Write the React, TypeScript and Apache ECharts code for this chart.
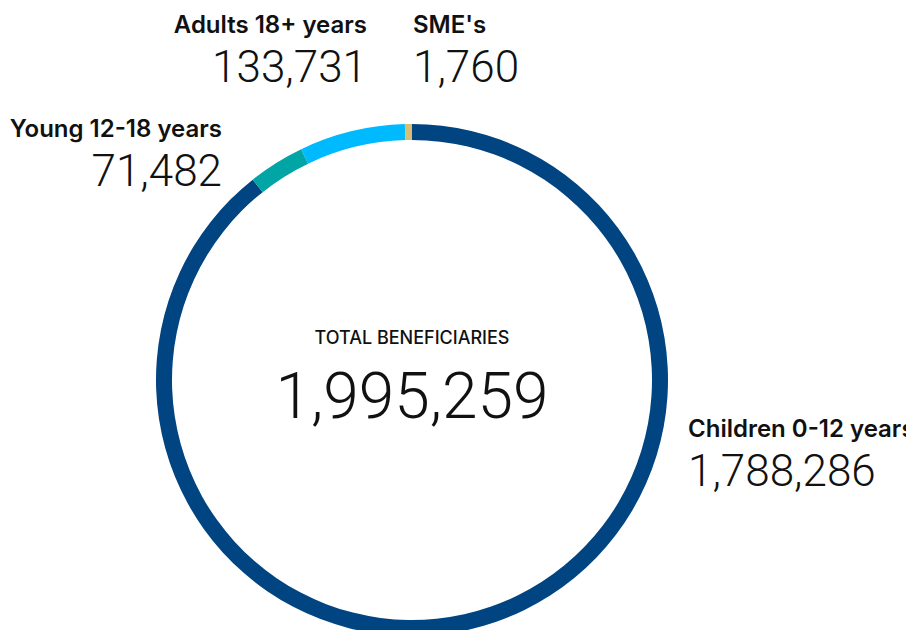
import React, { useEffect, useRef } from "react";
import * as echarts from "echarts";

const categories = ["Children 0-12 years", "Young 12-18 years", "Adults 18+ years", "SME's"];
const values = [1788286, 71482, 133731, 1760];
const colors = ["#004481", "#02A5A5", "#00BAFF", "#D8BE75"];
const totalLabel = "TOTAL BENEFICIARIES";
const totalValue = 1995259;

const fmt = (n: number) => n.toLocaleString("en-US");

// label anchor positions (x, name baseline y, align) per category
const labelPos: [number, number, "left" | "right"][] = [
  [688, 437, "left"],
  [222, 137, "right"],
  [367, 33, "right"],
  [413, 33, "left"],
];

export default function App() {
  const ref = useRef<HTMLDivElement>(null);
  useEffect(() => {
    if (!ref.current) return;
    const chart = echarts.init(ref.current, null, { renderer: "svg" });
    const nameFont = { fontFamily: "Inter", fontWeight: 600, fontSize: 24, fill: "#111" };
    const numFont = { fontFamily: "Roboto", fontWeight: 300, fontSize: 44, fill: "#111" };
    const graphics: any[] = [];
    categories.forEach((c, i) => {
      const [x, y, align] = labelPos[i];
      graphics.push({
        type: "text",
        x,
        y: y + 3,
        style: { ...nameFont, text: c, textAlign: align, textVerticalAlign: "bottom" },
      });
      graphics.push({
        type: "text",
        x,
        y: y + 56,
        style: { ...numFont, text: fmt(values[i]), textAlign: align, textVerticalAlign: "bottom" },
      });
    });
    graphics.push({
      type: "text",
      x: 412,
      y: 346,
      style: { fontFamily: "Inter", fontWeight: 500, fontSize: 18, fill: "#111", text: totalLabel, textAlign: "center", textVerticalAlign: "bottom" },
    });
    graphics.push({
      type: "text",
      x: 412,
      y: 428,
      style: { fontFamily: "Roboto", fontWeight: 300, fontSize: 64, fill: "#111", text: fmt(totalValue), textAlign: "center", textVerticalAlign: "bottom" },
    });
    chart.setOption({
      animation: false,
      graphic: graphics,
      series: [
        {
          type: "pie",
          center: [412, 380],
          radius: [240, 256],
          startAngle: 90,
          clockwise: true,
          minAngle: 1.6,
          avoidLabelOverlap: false,
          label: { show: false },
          labelLine: { show: false },
          emphasis: { disabled: true },
          itemStyle: { borderWidth: 0 },
          data: categories.map((c, i) => ({ name: c, value: values[i], itemStyle: { color: colors[i] } })),
        },
      ],
    });
    return () => chart.dispose();
  }, []);
  return <div ref={ref} style={{ position: "absolute", left: 0, top: 0, width: 906, height: 630 }} />;
}
